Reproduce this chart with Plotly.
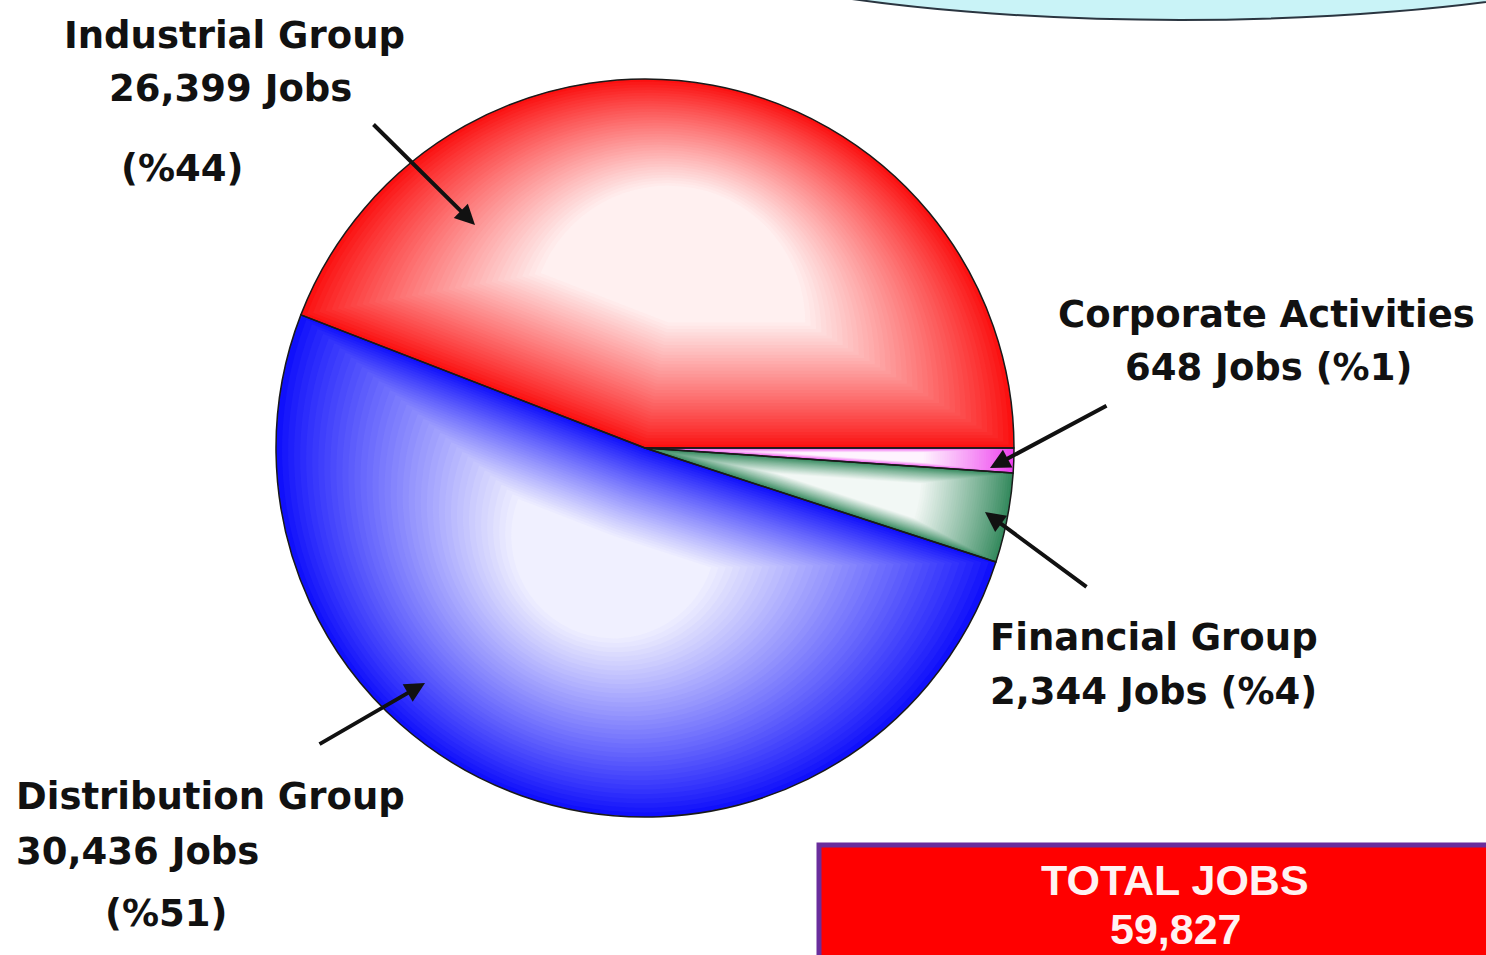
import plotly.graph_objects as go

# --- data ---
groups = ["Industrial Group", "Distribution Group", "Financial Group", "Corporate Activities"]
jobs = [26399, 30436, 2344, 648]
shares = ["%44", "%51", "%4", "%1"]
total_jobs = 59827

# --- styling ---
base_colors = ["#fb0d0d", "#0c0cfb", "#30875a", "#ee3cee"]
highlight_at = [0.55, 0.35, 0.6, 0.6]   # where each slice's white spot sits, as share of radius
draw_order = [1, 0, 2, 3]

W, H = 1486, 955
CX, CY, R = 645, 448, 369

# first slice starts at 3 o'clock and runs counterclockwise
# (plotly puts the first slice clockwise of `rotation`, so back it off by its own angle)
ROT = 90 - 360 * jobs[0] / sum(jobs)


def px(x):
    return x / W


def py(y):
    return 1 - y / H


def mix(hex_color, w):
    # blend towards white, w in [0, 1]
    h = hex_color.lstrip("#")
    rgb = [int(h[i:i + 2], 16) for i in (0, 2, 4)]
    out = [round(c + (255 - c) * w) for c in rgb]
    return "rgb({},{},{})".format(*out)


def whiteness(u):
    # u = 0 on the slice edge, 1 at its highlight
    return 0.95 * u ** 0.9


def domain(half):
    return dict(x=[px(CX - half), px(CX + half)], y=[py(CY + half), py(CY - half)])


fig = go.Figure()

# --- each slice shaded by shrinking copies of itself towards a spot inside it.
#     a smaller pie + `pull` gives exactly that shrunken, shifted copy.
n_steps = 40
for i in draw_order:
    d = highlight_at[i] * R
    s_min = highlight_at[i] / (1 + highlight_at[i])   # keeps pull <= 1
    for k in range(n_steps):
        s = 1 - (1 - s_min) * k / n_steps
        rho = s * R
        pull = (1 - s) * d / rho
        cols = ["rgba(0,0,0,0)"] * len(jobs)
        cols[i] = mix(base_colors[i], whiteness((k + 0.5) / n_steps))
        pulls = [0] * len(jobs)
        pulls[i] = pull
        fig.add_trace(go.Pie(
            labels=groups, values=jobs, sort=False,
            direction="counterclockwise", rotation=ROT,
            domain=domain(rho * (1 + pull)), pull=pulls,
            marker=dict(colors=cols, line=dict(width=0)),
            textinfo="none", hoverinfo="skip", showlegend=False,
        ))

# outline on top
fig.add_trace(go.Pie(
    labels=groups, values=jobs, sort=False,
    direction="counterclockwise", rotation=ROT,
    domain=domain(R),
    marker=dict(colors=["rgba(0,0,0,0)"] * 4, line=dict(color="#1a1a1a", width=1.5)),
    textinfo="none", hoverinfo="label+value", showlegend=False,
))

# --- labels ---
lab_font = dict(family="DejaVu Sans", size=37, color="#111111", weight="bold")


def label(text, x, y, anchor="center"):
    fig.add_annotation(text=text, x=px(x), y=py(y), xref="paper", yref="paper",
                       xanchor=anchor, yanchor="middle", showarrow=False, font=lab_font)


def arrow(x_head, y_head, x_tail, y_tail):
    fig.add_annotation(text="", x=px(x_head), y=py(y_head), xref="paper", yref="paper",
                       ax=x_tail - x_head, ay=y_tail - y_head, axref="pixel", ayref="pixel",
                       showarrow=True, arrowhead=2, arrowsize=1, arrowwidth=4, arrowcolor="#111111")


label(groups[0], 234, 36)
label(f"{jobs[0]:,} Jobs", 230, 88)
label(f"({shares[0]})", 182, 168)
arrow(475, 225, 372, 123)

label(groups[3], 1266, 314)
label(f"{jobs[3]:,} Jobs ({shares[3]})", 1268, 368)
arrow(990, 468, 1108, 405)

label(groups[2], 988, 637, "left")
label(f"{jobs[2]:,} Jobs ({shares[2]})", 988, 691, "left")
arrow(985, 512, 1088, 588)

label(groups[1], 14, 796, "left")
label(f"{jobs[1]:,} Jobs", 14, 851, "left")
label(f"({shares[1]})", 166, 913)
arrow(425, 683, 318, 745)

# --- decorations: cyan bubble at top, total box ---
fig.add_shape(type="circle", xref="paper", yref="paper",
              x0=px(600), x1=px(1760), y0=py(20), y1=py(-220),
              fillcolor="#c9f3f7", line=dict(color="#2a3540", width=2), layer="below")
fig.add_shape(type="rect", xref="paper", yref="paper",
              x0=px(819), x1=1.01, y0=-0.01, y1=py(845),
              fillcolor="#ff0000", line=dict(color="#6a2d9c", width=5))

box_font = dict(family="Liberation Sans", size=43, color="#fff2f2", weight="bold")
fig.add_annotation(text="TOTAL JOBS", x=px(1175), y=py(880), xref="paper", yref="paper",
                   xanchor="center", yanchor="middle", showarrow=False, font=box_font)
fig.add_annotation(text=f"{total_jobs:,}", x=px(1176), y=py(929), xref="paper", yref="paper",
                   xanchor="center", yanchor="middle", showarrow=False, font=box_font)

fig.update_layout(
    width=W, height=H,
    margin=dict(l=0, r=0, t=0, b=0),
    paper_bgcolor="white",
    plot_bgcolor="white",
)

fig.write_html("out.html", config={"displayModeBar": False},
               post_script="document.body.style.margin='0';")
